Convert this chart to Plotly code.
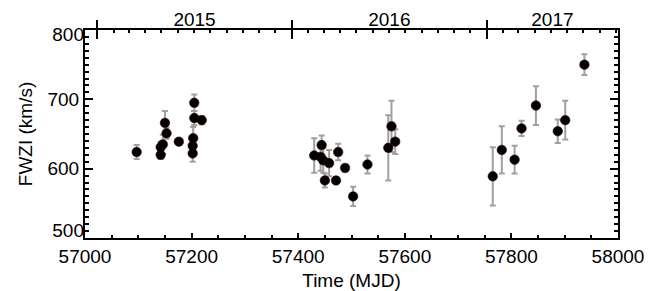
import datetime as dt
import plotly.graph_objects as go

# ---- data ----
mjd = [57097, 57142, 57142, 57146, 57150, 57153, 57176, 57202, 57202, 57203, 57205, 57205, 57219,
       57430, 57442, 57444, 57447, 57450, 57458, 57471, 57475, 57488, 57503, 57530, 57569, 57575, 57582,
       57765, 57782, 57806, 57819, 57846, 57887, 57901, 57937]
fwzi = [624, 620, 631, 635, 666, 651, 639, 622, 633, 644, 673, 695, 670,
        619, 617, 634, 612, 583, 608, 583, 624, 601, 560, 606, 630, 661, 639,
        589, 627, 613, 658, 691, 654, 670, 750]
err = [10, 6, 8, 14, 17, 8, 4, 12, 10, 16, 10, 12, 6,
       25, 20, 14, 18, 10, 19, 5, 12, 5, 14, 13, 47, 37, 18,
       42, 34, 20, 11, 28, 17, 28, 15]

year_labels = ["2015", "2016", "2017"]
year_starts = [57023, 57388, 57754, 58119]   # MJD of 1 Jan of 2015..2018

x_range = [57000, 58000]
y_range = [500, 800]
y_ticks_mid = [600, 700]
y_tick_top = [800]
y_tick_bottom = [500]


def to_mjd(d):
    return (d - dt.date(1858, 11, 17)).days


month_ticks = []
for yr in (2014, 2015, 2016, 2017):
    for mo in range(1, 13):
        m = to_mjd(dt.date(yr, mo, 1))
        if x_range[0] < m < x_range[1] and m not in year_starts:
            month_ticks.append(m)

year_bounds = [v for v in year_starts if x_range[0] <= v <= x_range[1]]
year_mid = []
for i in range(len(year_labels)):
    a = max(year_starts[i], x_range[0])
    b = min(year_starts[i + 1], x_range[1])
    year_mid.append((a + b) / 2)

FONT = "Liberation Sans, Arial, sans-serif"
TW = 1.5

fig = go.Figure()
fig.add_trace(go.Scatter(
    x=mjd, y=fwzi, mode="markers",
    marker=dict(color="black", size=9.5, line=dict(color="#3a0000", width=0.6)),
    error_y=dict(type="data", array=err, visible=True, color="#a0a0a0", thickness=2, width=3),
    showlegend=False, hoverinfo="skip",
))
for ax in ("x2", "x3", "x4", "x5", "x6"):
    fig.add_trace(go.Scatter(x=[], y=[], xaxis=ax, yaxis="y", showlegend=False))
for ay in ("y2", "y3", "y4"):
    fig.add_trace(go.Scatter(x=[], y=[], xaxis="x", yaxis=ay, showlegend=False))

common_x = dict(range=x_range, showgrid=False, zeroline=False, automargin=False)
common_y = dict(range=y_range, showgrid=False, zeroline=False, automargin=False)

fig.update_layout(
    width=665, height=291,
    margin=dict(l=85, r=47, t=30, b=53),
    paper_bgcolor="white", plot_bgcolor="rgba(0,0,0,0)",
    font=dict(family=FONT, size=19, color="black"),
    xaxis=dict(
        **common_x,
        showline=True, linecolor="black", linewidth=2, mirror=False,
        ticks="inside", tickmode="linear", tick0=57000, dtick=200,
        ticklen=5, tickwidth=TW, tickcolor="black",
        tickfont=dict(size=19), tickformat="d", ticklabelstandoff=0,
        title=dict(text="Time (MJD)", font=dict(size=19), standoff=12),
    ),
    # bottom minor ticks
    xaxis5=dict(
        **common_x, overlaying="x", side="bottom", showline=False, showticklabels=False,
        ticks="inside", tickmode="linear", tick0=57000, dtick=50,
        ticklen=3, tickwidth=TW, tickcolor="black",
    ),
    # top axis line + year labels
    xaxis2=dict(
        **common_x, overlaying="x", side="top",
        showline=True, linecolor="black", linewidth=2,
        tickmode="array", tickvals=year_mid, ticktext=year_labels,
        ticks="outside", ticklen=0, tickcolor="rgba(0,0,0,0)",
        tickfont=dict(size=19), ticklabelstandoff=-6,
    ),
    # year boundary ticks (outer half)
    xaxis3=dict(
        **common_x, overlaying="x", side="top", showline=False, showticklabels=False,
        tickmode="array", tickvals=year_bounds,
        ticks="outside", ticklen=9, tickwidth=TW, tickcolor="black",
    ),
    # year boundary ticks (inner half)
    xaxis4=dict(
        **common_x, overlaying="x", side="top", showline=False, showticklabels=False,
        tickmode="array", tickvals=year_bounds,
        ticks="inside", ticklen=9, tickwidth=TW, tickcolor="black",
    ),
    # monthly ticks on top axis
    xaxis6=dict(
        **common_x, overlaying="x", side="top", showline=False, showticklabels=False,
        tickmode="array", tickvals=month_ticks,
        ticks="inside", ticklen=3, tickwidth=TW, tickcolor="black",
    ),
    yaxis=dict(
        **common_y,
        showline=True, linecolor="black", linewidth=2, mirror="ticks",
        ticks="inside", tickmode="array", tickvals=y_tick_bottom + y_ticks_mid + y_tick_top,
        ticktext=["" for _ in y_tick_bottom] + [str(v) for v in y_ticks_mid] + ["" for _ in y_tick_top],
        ticklen=8, tickwidth=TW, tickcolor="black",
        tickfont=dict(size=19),
        title=dict(text="FWZI (km/s)", font=dict(size=19), standoff=10),
    ),
    # y minor ticks (left and mirrored right)
    yaxis2=dict(
        **common_y, overlaying="y", side="left",
        showline=False, mirror="ticks", showticklabels=False,
        ticks="inside", tickmode="linear", tick0=500, dtick=10,
        ticklen=4, tickwidth=TW, tickcolor="black",
    ),
    # end labels, nudged inward like the reference
    yaxis3=dict(
        **common_y, overlaying="y", side="left", showline=False,
        tickmode="array", tickvals=y_tick_top, ticktext=[str(v) for v in y_tick_top],
        ticks="", tickfont=dict(size=19), ticklabelshift=4,
    ),
    yaxis4=dict(
        **common_y, overlaying="y", side="left", showline=False,
        tickmode="array", tickvals=y_tick_bottom, ticktext=[str(v) for v in y_tick_bottom],
        ticks="", tickfont=dict(size=19), ticklabelshift=-8,
    ),
)

fig.write_html("out.html", config={"displayModeBar": False},
               post_script="document.body.style.margin='0px';")
